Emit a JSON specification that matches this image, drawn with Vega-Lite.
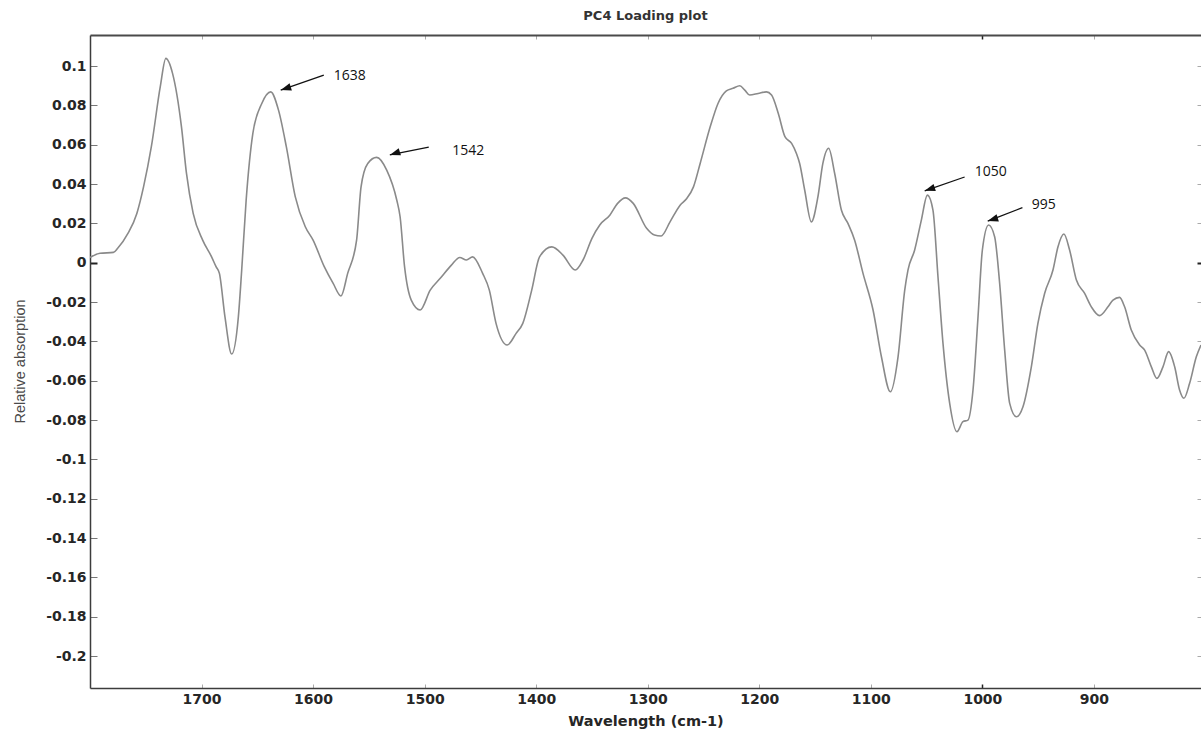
{
  "$schema": "https://vega.github.io/schema/vega-lite/v6.json",
  "width": 1111,
  "height": 653,
  "autosize": {"type": "none"},
  "padding": {"left": 90, "top": 35, "right": 0, "bottom": 45},
  "background": "white",
  "view": {"stroke": null},
  "title": {
    "text": "PC4 Loading plot",
    "font": "DejaVu Sans",
    "fontSize": 13,
    "fontWeight": "bold",
    "color": "#333333",
    "anchor": "middle",
    "offset": 11
  },
  "datasets": {
    "loading": [
      {"wavenumber": 1800, "loading": 0.0027},
      {"wavenumber": 1791, "loading": 0.0048},
      {"wavenumber": 1779, "loading": 0.0053},
      {"wavenumber": 1775, "loading": 0.0075},
      {"wavenumber": 1766, "loading": 0.0149},
      {"wavenumber": 1758, "loading": 0.0251},
      {"wavenumber": 1752, "loading": 0.0386},
      {"wavenumber": 1745, "loading": 0.059},
      {"wavenumber": 1737, "loading": 0.0895},
      {"wavenumber": 1732, "loading": 0.1039},
      {"wavenumber": 1726, "loading": 0.0963},
      {"wavenumber": 1718, "loading": 0.0691},
      {"wavenumber": 1713.5, "loading": 0.0454},
      {"wavenumber": 1707.5, "loading": 0.0251},
      {"wavenumber": 1699, "loading": 0.0115},
      {"wavenumber": 1691, "loading": 0.003},
      {"wavenumber": 1687, "loading": -0.002},
      {"wavenumber": 1684, "loading": -0.0054},
      {"wavenumber": 1679, "loading": -0.0275},
      {"wavenumber": 1673, "loading": -0.0464},
      {"wavenumber": 1667, "loading": -0.0275},
      {"wavenumber": 1664, "loading": -0.0037},
      {"wavenumber": 1660, "loading": 0.0319},
      {"wavenumber": 1654, "loading": 0.0658},
      {"wavenumber": 1646, "loading": 0.081},
      {"wavenumber": 1638, "loading": 0.0869},
      {"wavenumber": 1631, "loading": 0.0776},
      {"wavenumber": 1624, "loading": 0.059},
      {"wavenumber": 1616, "loading": 0.0336},
      {"wavenumber": 1607, "loading": 0.0183},
      {"wavenumber": 1600, "loading": 0.0115},
      {"wavenumber": 1590, "loading": -0.002},
      {"wavenumber": 1582, "loading": -0.0105},
      {"wavenumber": 1575, "loading": -0.0169},
      {"wavenumber": 1569, "loading": -0.0054},
      {"wavenumber": 1561, "loading": 0.0115},
      {"wavenumber": 1557, "loading": 0.0386},
      {"wavenumber": 1551, "loading": 0.0505},
      {"wavenumber": 1543, "loading": 0.0536},
      {"wavenumber": 1534, "loading": 0.0471},
      {"wavenumber": 1525, "loading": 0.0319},
      {"wavenumber": 1522, "loading": 0.0234},
      {"wavenumber": 1518, "loading": -0.002},
      {"wavenumber": 1512, "loading": -0.019},
      {"wavenumber": 1504, "loading": -0.024},
      {"wavenumber": 1495, "loading": -0.0139},
      {"wavenumber": 1486, "loading": -0.0079},
      {"wavenumber": 1476, "loading": -0.0012},
      {"wavenumber": 1468.5, "loading": 0.0027},
      {"wavenumber": 1462.5, "loading": 0.0014},
      {"wavenumber": 1457, "loading": 0.003},
      {"wavenumber": 1448, "loading": -0.0054},
      {"wavenumber": 1442, "loading": -0.0139},
      {"wavenumber": 1436, "loading": -0.0308},
      {"wavenumber": 1426, "loading": -0.0418},
      {"wavenumber": 1418, "loading": -0.0359},
      {"wavenumber": 1412, "loading": -0.0308},
      {"wavenumber": 1404, "loading": -0.0139},
      {"wavenumber": 1397, "loading": 0.003},
      {"wavenumber": 1386, "loading": 0.0081},
      {"wavenumber": 1376, "loading": 0.0039},
      {"wavenumber": 1365, "loading": -0.0037},
      {"wavenumber": 1358, "loading": 0.0014},
      {"wavenumber": 1350, "loading": 0.0124},
      {"wavenumber": 1343, "loading": 0.0192},
      {"wavenumber": 1334, "loading": 0.0242},
      {"wavenumber": 1327, "loading": 0.0302},
      {"wavenumber": 1320, "loading": 0.033},
      {"wavenumber": 1313, "loading": 0.0302},
      {"wavenumber": 1301, "loading": 0.0175},
      {"wavenumber": 1294, "loading": 0.0141},
      {"wavenumber": 1288, "loading": 0.0136},
      {"wavenumber": 1280, "loading": 0.0208},
      {"wavenumber": 1271, "loading": 0.0293},
      {"wavenumber": 1265, "loading": 0.0327},
      {"wavenumber": 1259, "loading": 0.0386},
      {"wavenumber": 1253, "loading": 0.0505},
      {"wavenumber": 1244, "loading": 0.0691},
      {"wavenumber": 1237, "loading": 0.081},
      {"wavenumber": 1229.5, "loading": 0.0874},
      {"wavenumber": 1223.5, "loading": 0.0887},
      {"wavenumber": 1217.5, "loading": 0.09},
      {"wavenumber": 1213, "loading": 0.0878},
      {"wavenumber": 1208.6, "loading": 0.0853},
      {"wavenumber": 1201, "loading": 0.0861},
      {"wavenumber": 1193.6, "loading": 0.0869},
      {"wavenumber": 1189, "loading": 0.0853},
      {"wavenumber": 1183, "loading": 0.076},
      {"wavenumber": 1177, "loading": 0.0641},
      {"wavenumber": 1171, "loading": 0.0607},
      {"wavenumber": 1166.7, "loading": 0.0556},
      {"wavenumber": 1163.8, "loading": 0.0505},
      {"wavenumber": 1159.3, "loading": 0.037},
      {"wavenumber": 1153.3, "loading": 0.0208},
      {"wavenumber": 1147.4, "loading": 0.0336},
      {"wavenumber": 1143, "loading": 0.0505},
      {"wavenumber": 1137.8, "loading": 0.0582},
      {"wavenumber": 1132.4, "loading": 0.0454},
      {"wavenumber": 1126.4, "loading": 0.0268},
      {"wavenumber": 1120.5, "loading": 0.02},
      {"wavenumber": 1114.5, "loading": 0.0115},
      {"wavenumber": 1107, "loading": -0.0054},
      {"wavenumber": 1098, "loading": -0.024},
      {"wavenumber": 1090.5, "loading": -0.0478},
      {"wavenumber": 1082.5, "loading": -0.0656},
      {"wavenumber": 1075.6, "loading": -0.0478},
      {"wavenumber": 1069.6, "loading": -0.0139},
      {"wavenumber": 1066.7, "loading": -0.0037},
      {"wavenumber": 1060.7, "loading": 0.0065},
      {"wavenumber": 1054.7, "loading": 0.0217},
      {"wavenumber": 1049.3, "loading": 0.0344},
      {"wavenumber": 1044.3, "loading": 0.0268},
      {"wavenumber": 1039.8, "loading": -0.0071},
      {"wavenumber": 1035.3, "loading": -0.041},
      {"wavenumber": 1029.3, "loading": -0.0715},
      {"wavenumber": 1022.8, "loading": -0.0859},
      {"wavenumber": 1017.4, "loading": -0.0808},
      {"wavenumber": 1012.9, "loading": -0.08},
      {"wavenumber": 1008.4, "loading": -0.0647},
      {"wavenumber": 1003.9, "loading": -0.0275},
      {"wavenumber": 1000, "loading": 0.0065},
      {"wavenumber": 994.4, "loading": 0.0192},
      {"wavenumber": 989, "loading": 0.0132},
      {"wavenumber": 984.5, "loading": -0.0105},
      {"wavenumber": 980, "loading": -0.0444},
      {"wavenumber": 975.5, "loading": -0.0715},
      {"wavenumber": 969.5, "loading": -0.0783},
      {"wavenumber": 963.6, "loading": -0.0732},
      {"wavenumber": 956.1, "loading": -0.0529},
      {"wavenumber": 950.2, "loading": -0.0308},
      {"wavenumber": 944.2, "loading": -0.0156},
      {"wavenumber": 936.7, "loading": -0.0037},
      {"wavenumber": 932.2, "loading": 0.0081},
      {"wavenumber": 926.9, "loading": 0.0146},
      {"wavenumber": 921.8, "loading": 0.0065},
      {"wavenumber": 915.7, "loading": -0.0088},
      {"wavenumber": 908.3, "loading": -0.0156},
      {"wavenumber": 902.3, "loading": -0.0224},
      {"wavenumber": 894.9, "loading": -0.0269},
      {"wavenumber": 887.4, "loading": -0.0224},
      {"wavenumber": 882.9, "loading": -0.019},
      {"wavenumber": 877, "loading": -0.0176},
      {"wavenumber": 872.5, "loading": -0.0224},
      {"wavenumber": 866.5, "loading": -0.0342},
      {"wavenumber": 859, "loading": -0.0418},
      {"wavenumber": 854.5, "loading": -0.0444},
      {"wavenumber": 848.5, "loading": -0.0529},
      {"wavenumber": 843.5, "loading": -0.0588},
      {"wavenumber": 838.1, "loading": -0.0529},
      {"wavenumber": 833, "loading": -0.0452},
      {"wavenumber": 827.6, "loading": -0.0529},
      {"wavenumber": 823.2, "loading": -0.0647},
      {"wavenumber": 819.3, "loading": -0.0689},
      {"wavenumber": 814.2, "loading": -0.0613},
      {"wavenumber": 808.2, "loading": -0.0478},
      {"wavenumber": 804, "loading": -0.0418}
    ],
    "peaks": [
      {"label": "1638", "tailW": 1590.4, "tailV": 0.0954, "tipW": 1629, "tipV": 0.0878, "textW": 1581.4, "textV": 0.0949},
      {"label": "1542", "tailW": 1496.3, "tailV": 0.0588, "tipW": 1531.2, "tipV": 0.0548, "textW": 1475.3, "textV": 0.0568},
      {"label": "1050", "tailW": 1015.9, "tailV": 0.0436, "tipW": 1051.7, "tipV": 0.0366, "textW": 1006.9, "textV": 0.0463},
      {"label": "995", "tailW": 964.1, "tailV": 0.028, "tipW": 995.2, "tipV": 0.0212, "textW": 955.8, "textV": 0.0293}
    ]
  },
  "resolve": {
    "scale": {"x": "independent", "y": "independent"},
    "axis": {"x": "independent", "y": "independent"}
  },
  "layer": [
    {
      "data": {"name": "loading"},
      "mark": {"type": "line", "color": "#8a8a8a", "strokeWidth": 1.6, "interpolate": "monotone", "clip": true},
      "encoding": {
        "x": {
          "field": "wavenumber",
          "type": "quantitative",
          "scale": {"domain": [1800, 804], "nice": false, "zero": false},
          "axis": {
            "orient": "bottom",
            "title": "Wavelength (cm-1)",
            "titleFont": "DejaVu Sans",
            "titleFontSize": 14.5,
            "titleFontWeight": "bold",
            "titleColor": "#262626",
            "titlePadding": 8,
            "values": [1700, 1600, 1500, 1400, 1300, 1200, 1100, 1000, 900],
            "format": "d",
            "labelFont": "DejaVu Sans",
            "labelFontSize": 14,
            "labelFontWeight": "bold",
            "labelColor": "#262626",
            "labelPadding": 8,
            "labelFlush": false,
            "labelOverlap": false,
            "domainColor": "#3c3c3c",
            "domainWidth": 1.5,
            "tickSize": -4,
            "tickColor": {"condition": {"test": "datum.value === 1000", "value": "#222222"}, "value": "#aaaaaa"},
            "tickWidth": {"condition": {"test": "datum.value === 1000", "value": 1.5}, "value": 1},
            "grid": false
          }
        },
        "y": {
          "field": "loading",
          "type": "quantitative",
          "scale": {"domain": [-0.2162, 0.1158], "nice": false, "zero": false},
          "axis": {
            "orient": "left",
            "title": "Relative absorption",
            "titleFont": "Liberation Sans",
            "titleFontSize": 14.5,
            "titleFontWeight": "normal",
            "titleColor": "#4a4a4a",
            "titleAngle": 270,
            "titleX": -70,
            "titleY": 326,
            "titleAlign": "center",
            "titleBaseline": "middle",
            "values": [0.1, 0.08, 0.06, 0.04, 0.02, 0, -0.02, -0.04, -0.06, -0.08, -0.1, -0.12, -0.14, -0.16, -0.18, -0.2],
            "labelExpr": "datum.value < 0 ? '-' + format(-datum.value, '.2~f') : format(datum.value, '.2~f')",
            "labelFont": "DejaVu Sans",
            "labelFontSize": 14,
            "labelFontWeight": "bold",
            "labelColor": "#262626",
            "labelPadding": 11,
            "labelFlush": false,
            "labelOverlap": false,
            "domainColor": "#3c3c3c",
            "domainWidth": 1.5,
            "tickSize": -7,
            "tickColor": {"condition": {"test": "datum.value === 0", "value": "#222222"}, "value": "#777777"},
            "tickWidth": {"condition": {"test": "datum.value === 0", "value": 2}, "value": 1},
            "grid": false
          }
        }
      }
    },
    {
      "data": {"name": "peaks"},
      "mark": {"type": "rule", "color": "#111111", "strokeWidth": 1.3},
      "encoding": {
        "x": {
          "field": "tailW",
          "type": "quantitative",
          "scale": {"domain": [1800, 804], "nice": false, "zero": false},
          "axis": {
            "orient": "top",
            "title": null,
            "labels": false,
            "values": [1700, 1600, 1500, 1400, 1300, 1200, 1100, 1000, 900],
            "domainColor": "#4a4a4a",
            "domainWidth": 2,
            "tickSize": -4,
            "tickColor": {"condition": {"test": "datum.value === 1000", "value": "#222222"}, "value": "#aaaaaa"},
            "tickWidth": {"condition": {"test": "datum.value === 1000", "value": 1.5}, "value": 1},
            "grid": false
          }
        },
        "y": {
          "field": "tailV",
          "type": "quantitative",
          "scale": {"domain": [-0.2162, 0.1158], "nice": false, "zero": false},
          "axis": {
            "orient": "right",
            "title": null,
            "labels": false,
            "domain": false,
            "values": [0.1, 0.08, 0.06, 0.04, 0.02, 0, -0.02, -0.04, -0.06, -0.08, -0.1, -0.12, -0.14, -0.16, -0.18, -0.2],
            "tickSize": -4,
            "tickColor": {"condition": {"test": "datum.value === 0", "value": "#222222"}, "value": "#aaaaaa"},
            "tickWidth": {"condition": {"test": "datum.value === 0", "value": 2}, "value": 1},
            "grid": false
          }
        },
        "x2": {"field": "tipW"},
        "y2": {"field": "tipV"}
      }
    },
    {
      "data": {"name": "peaks"},
      "mark": {
        "type": "point",
        "shape": "M0,0L0.75,2.1L-0.75,2.1Z",
        "size": 100,
        "angle": 252,
        "filled": true,
        "opacity": 1,
        "color": "#111111"
      },
      "encoding": {
        "x": {"field": "tipW", "type": "quantitative", "scale": {"domain": [1800, 804], "nice": false, "zero": false}, "axis": null},
        "y": {"field": "tipV", "type": "quantitative", "scale": {"domain": [-0.2162, 0.1158], "nice": false, "zero": false}, "axis": null}
      }
    },
    {
      "data": {"name": "peaks"},
      "mark": {
        "type": "text",
        "align": "left",
        "baseline": "middle",
        "font": "Open Sans",
        "fontSize": 14,
        "color": "#111111"
      },
      "encoding": {
        "x": {"field": "textW", "type": "quantitative", "scale": {"domain": [1800, 804], "nice": false, "zero": false}, "axis": null},
        "y": {"field": "textV", "type": "quantitative", "scale": {"domain": [-0.2162, 0.1158], "nice": false, "zero": false}, "axis": null},
        "text": {"field": "label"}
      }
    }
  ]
}
